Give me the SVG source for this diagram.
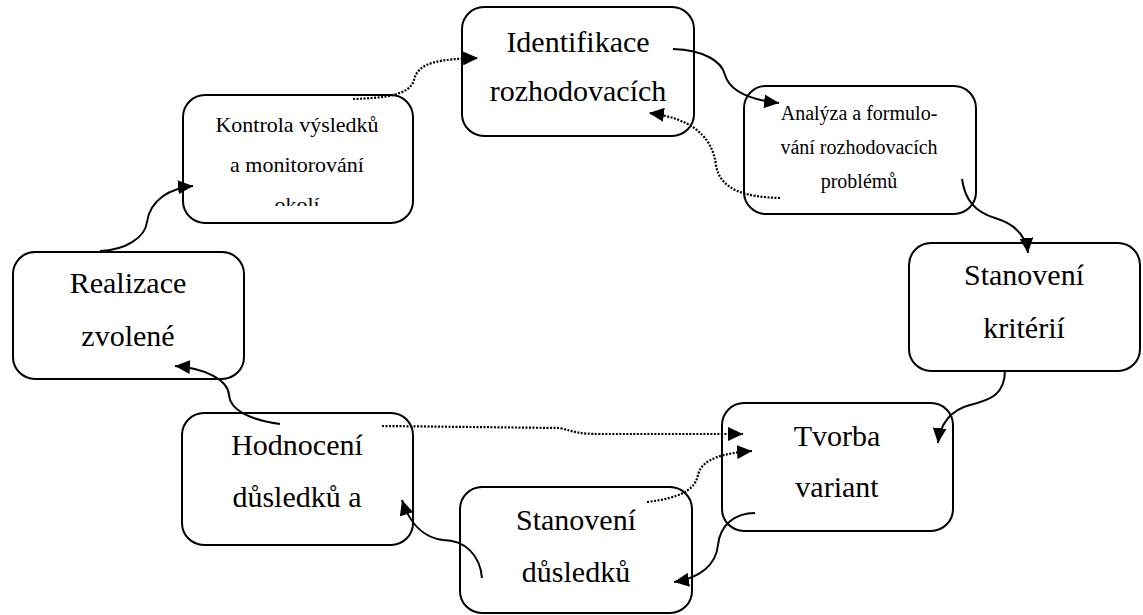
<svg xmlns="http://www.w3.org/2000/svg" width="1143" height="615" viewBox="0 0 1143 615">
  <style>
    .box { fill: #ffffff; stroke: #000000; stroke-width: 2; }
    text { font-family: 'Liberation Serif', 'DejaVu Serif', serif; fill: #000000; text-anchor: middle; }
    .big { font-size: 30px; }
    .mid { font-size: 22px; }
    .small { font-size: 20px; }
    .solid { fill: none; stroke: #000000; stroke-width: 2; marker-end: url(#arrow); }
    .dotted { fill: none; stroke: #000000; stroke-width: 2.2; stroke-dasharray: 2 1.5; marker-end: url(#arrow); }
  </style>
  <defs>
    <marker id="arrow" markerUnits="userSpaceOnUse" markerWidth="16" markerHeight="14" refX="15" refY="7" orient="auto">
      <path d="M0,0 L15,7 L0,14 Z" fill="#000000"/>
    </marker>
    <clipPath id="clipKontrola">
      <rect x="183" y="95" width="230" height="111"/>
    </clipPath>
  </defs>
  <rect width="1143" height="615" fill="#ffffff"/>

  <g id="identifikace">
    <rect class="box" x="462" y="7" width="232" height="129" rx="22"/>
    <text class="big" x="578" y="52">Identifikace</text>
    <text class="big" x="578" y="101">rozhodovacích</text>
  </g>

  <g id="analyza">
    <rect class="box" x="744" y="86" width="232" height="128" rx="22"/>
    <text class="small" x="859" y="120">Analýza a formulo-</text>
    <text class="small" x="859" y="154">vání rozhodovacích</text>
    <text class="small" x="859" y="188">problémů</text>
  </g>

  <g id="kriteria">
    <rect class="box" x="909" y="243" width="231" height="128" rx="22"/>
    <text class="big" x="1024" y="285">Stanovení</text>
    <text class="big" x="1024" y="338">kritérií</text>
  </g>

  <g id="varianty">
    <rect class="box" x="722" y="403" width="231" height="128" rx="22"/>
    <text class="big" x="837" y="446">Tvorba</text>
    <text class="big" x="837" y="497">variant</text>
  </g>

  <g id="dusledky">
    <rect class="box" x="460" y="487" width="232" height="126" rx="22"/>
    <text class="big" x="576" y="530">Stanovení</text>
    <text class="big" x="576" y="582">důsledků</text>
  </g>

  <g id="hodnoceni">
    <rect class="box" x="182" y="413" width="231" height="132" rx="22"/>
    <text class="big" x="297" y="455">Hodnocení</text>
    <text class="big" x="297" y="507">důsledků a</text>
  </g>

  <g id="realizace">
    <rect class="box" x="13" y="252" width="231" height="127" rx="22"/>
    <text class="big" x="128" y="293">Realizace</text>
    <text class="big" x="128" y="346">zvolené</text>
  </g>

  <g id="kontrola">
    <rect class="box" x="183" y="95" width="230" height="128" rx="22"/>
    <!-- third line is cut off by the text frame -->
    <g clip-path="url(#clipKontrola)">
      <text class="mid" x="297" y="132">Kontrola výsledků</text>
      <text class="mid" x="297" y="172">a monitorování</text>
      <text class="mid" x="297" y="212">okolí</text>
    </g>
  </g>

  <g id="connectors">
    <!-- main cycle, solid -->
    <path class="solid" d="M673,49 C705,50 722,62 725,75 C730,92 752,100 779,103"/>
    <path class="solid" d="M962,179 C965,200 975,212 995,218 C1015,224 1026,235 1028,253"/>
    <path class="solid" d="M1005,370 C1005,395 990,400 970,405 C950,410 940,425 938,443"/>
    <path class="solid" d="M755,513 C735,513 720,525 718,545 C716,565 700,578 674,582"/>
    <path class="solid" d="M482,578 C480,555 465,540 443,540 C425,538 410,525 402,500"/>
    <path class="solid" d="M280,424 C250,420 230,410 229,395 C228,380 205,368 175,366"/>
    <path class="solid" d="M100,251 C125,250 145,238 147,222 C150,200 170,188 193,186"/>
    <!-- feedback, dotted -->
    <path class="dotted" d="M353,99 C385,98 410,95 414,80 C418,62 440,59 478,58"/>
    <path class="dotted" d="M780,198 C745,197 720,190 716,165 C712,135 690,118 649,113"/>
    <path class="dotted" d="M382,426 L560,428 C575,432 580,434 600,434 L743,434"/>
    <path class="dotted" d="M647,502 C680,498 695,490 698,475 C702,458 725,453 752,451"/>
  </g>
</svg>
